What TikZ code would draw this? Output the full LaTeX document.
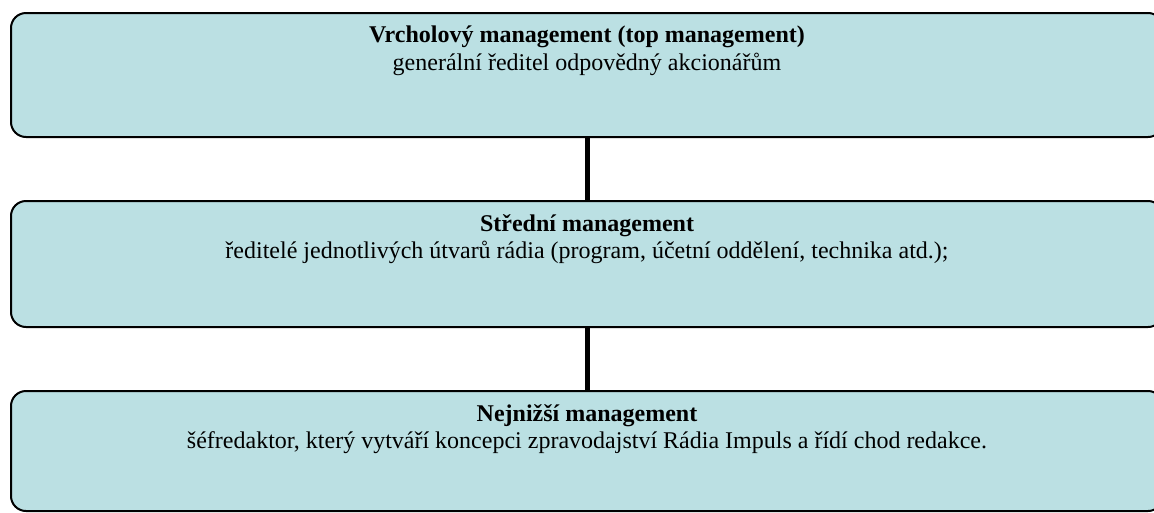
\documentclass[tikz,border=0pt]{standalone}
\usepackage{fontspec}
\setmainfont{Liberation Serif}
\usetikzlibrary{positioning}
\definecolor{boxblue}{RGB}{187,224,227}
\tikzset{
levelbox/.style={rectangle, rounded corners=15pt, draw=black!100, fill=boxblue, line width=2pt, inner sep=0pt, minimum width=1152pt, minimum height=124pt},
leveltext/.style={align=center, inner sep=0pt, font=\fontsize{24}{27.6}\selectfont},
linkline/.style={line width=5pt, black},
}
\begin{document}
\begin{tikzpicture}[x=1pt,y=-1pt]
    \useasboundingbox (0,0) rectangle (1154,512);
    \node[levelbox] at (587,75) (vrchol) {};
    \node[levelbox, minimum height=126pt] at (587,264) (stredni) {};
    \node[levelbox, minimum height=120pt] at (587,451) (nejnizsi) {};
    \node[leveltext, below=14pt of vrchol.north] (vrcholtext) {\textbf{Vrcholový management (top management)}\\generální ředitel odpovědný akcionářům};
    \node[leveltext, below=14pt of stredni.north] (strednitext) {\textbf{Střední management}\\ředitelé jednotlivých útvarů rádia (program, účetní oddělení, technika atd.);};
    \node[leveltext, below=14pt of nejnizsi.north] (nejnizsitext) {\textbf{Nejnižší management}\\šéfredaktor, který vytváří koncepci zpravodajství Rádia Impuls a řídí chod redakce.};
     \draw[linkline] (vrchol.south) to (stredni.north);
     \draw[linkline] (stredni.south) to (nejnizsi.north);
\end{tikzpicture}
\end{document}
